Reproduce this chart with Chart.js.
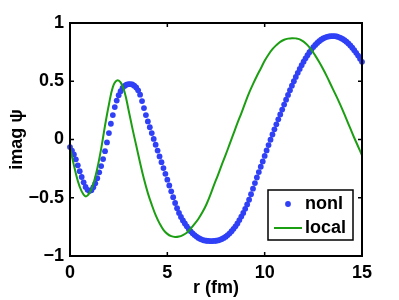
<!DOCTYPE html>
<html>
<head>
<meta charset="utf-8">
<script src="https://cdn.jsdelivr.net/npm/chart.js@4/dist/chart.umd.min.js"></script>
<style>
  html, body { margin: 0; padding: 0; background: #fff; }
  canvas { display: block; }
</style>
</head>
<body>
<canvas id="chart" width="399" height="300"></canvas>
<script>
// nonlocal wave function, imag part, sampled every 0.1 fm (dots)
const nonlStep = 0.1;
const imagNonl = [
  -0.065, -0.095, -0.128, -0.17, -0.222, -0.272, -0.322, -0.368, -0.407, -0.432,
  -0.441, -0.435, -0.41, -0.376, -0.332, -0.282, -0.228, -0.168, -0.1, -0.025,
  0.055, 0.135, 0.21, 0.278, 0.334, 0.38, 0.415, 0.442, 0.46, 0.47,
  0.475, 0.476, 0.472, 0.462, 0.447, 0.422, 0.385, 0.33, 0.27, 0.21,
  0.155, 0.105, 0.055, 0.005, -0.045, -0.095, -0.145, -0.195, -0.245, -0.295,
  -0.345, -0.395, -0.445, -0.495, -0.545, -0.59, -0.63, -0.665, -0.695, -0.72,
  -0.745, -0.768, -0.788, -0.805, -0.82, -0.833, -0.845, -0.854, -0.861, -0.866,
  -0.869, -0.871, -0.872, -0.872, -0.871, -0.869, -0.866, -0.861, -0.854, -0.845,
  -0.834, -0.82, -0.805, -0.787, -0.767, -0.745, -0.72, -0.692, -0.662, -0.63,
  -0.595, -0.557, -0.517, -0.47, -0.422, -0.374, -0.326, -0.28, -0.234, -0.188,
  -0.141, -0.094, -0.048, -0.002, 0.043, 0.087, 0.13, 0.173, 0.215, 0.257,
  0.30, 0.342, 0.383, 0.423, 0.462, 0.5, 0.537, 0.572, 0.606, 0.638,
  0.668, 0.697, 0.724, 0.749, 0.772, 0.793, 0.812, 0.829, 0.844, 0.857,
  0.867, 0.875, 0.881, 0.885, 0.887, 0.888, 0.887, 0.884, 0.879, 0.872,
  0.863, 0.852, 0.839, 0.824, 0.807, 0.788, 0.767, 0.744, 0.72, 0.694,
  0.667
];

// local wave function, imag part, read every 0.2 fm (line)
const localStep = 0.2;
const imagLocal = [
  -0.07, -0.22, -0.355, -0.445, -0.488, -0.46, -0.38, -0.25, -0.08, 0.12,
  0.3, 0.45, 0.505, 0.49, 0.41, 0.26, 0.1, -0.05, -0.2, -0.34,
  -0.46, -0.56, -0.65, -0.72, -0.775, -0.81, -0.83, -0.837, -0.833, -0.82,
  -0.8, -0.765, -0.725, -0.68, -0.625, -0.56, -0.48, -0.39, -0.305, -0.215,
  -0.13, -0.04, 0.05, 0.14, 0.225, 0.315, 0.4, 0.475, 0.545, 0.61,
  0.676, 0.73, 0.775, 0.81, 0.838, 0.856, 0.866, 0.87, 0.868, 0.86,
  0.84, 0.81, 0.77, 0.72, 0.665, 0.605, 0.54, 0.47, 0.4, 0.33,
  0.255, 0.175, 0.095, 0.015, -0.06, -0.135
];

const xTicks = [0, 5, 10, 15];
const yTicks = [-1, -0.5, 0, 0.5, 1];
const seriesNames = ["nonl", "local"];

const BLUE = "#2f40f6";
const GREEN = "#1c9e12";
const FONT = "'Liberation Sans', Arial, sans-serif";

const nonlPts = imagNonl.map((v, i) => ({ x: +(i * nonlStep).toFixed(2), y: v }));
const localPts = imagLocal.map((v, i) => ({ x: +(i * localStep).toFixed(2), y: v }));

function fmt(v) {
  if (v === 0) return "0";
  return v < 0 ? "\u2212" + Math.abs(v) : String(v);
}

// box round the axes + inward ticks, like matlab
const framePlugin = {
  id: "frame",
  afterDatasetsDraw(chart) {
    const { ctx, chartArea: a, scales } = chart;
    ctx.save();
    ctx.strokeStyle = "#000";
    ctx.lineWidth = 2;
    ctx.strokeRect(a.left, a.top, a.right - a.left, a.bottom - a.top);
    ctx.lineWidth = 1.5;
    ctx.beginPath();
    xTicks.forEach((t) => {
      const px = scales.x.getPixelForValue(t);
      ctx.moveTo(px, a.bottom); ctx.lineTo(px, a.bottom - 4);
      ctx.moveTo(px, a.top); ctx.lineTo(px, a.top + 4);
    });
    yTicks.forEach((t) => {
      const py = scales.y.getPixelForValue(t);
      ctx.moveTo(a.left, py); ctx.lineTo(a.left + 4, py);
      ctx.moveTo(a.right, py); ctx.lineTo(a.right - 4, py);
    });
    ctx.stroke();
    ctx.restore();
  },
};

// legend box in the lower right corner
const legendPlugin = {
  id: "boxLegend",
  afterDraw(chart) {
    const { ctx } = chart;
    const x0 = 268, y0 = 190, w = 85, h = 50;
    ctx.save();
    ctx.fillStyle = "#fff";
    ctx.fillRect(x0, y0, w, h);
    ctx.strokeStyle = "#000";
    ctx.lineWidth = 1.5;
    ctx.strokeRect(x0, y0, w, h);

    ctx.fillStyle = BLUE;
    ctx.beginPath();
    ctx.arc(288, 204, 2.9, 0, Math.PI * 2);
    ctx.fill();

    ctx.strokeStyle = GREEN;
    ctx.lineWidth = 2;
    ctx.beginPath();
    ctx.moveTo(274, 228); ctx.lineTo(302, 228);
    ctx.stroke();

    ctx.fillStyle = "#000";
    ctx.font = "bold 18px " + FONT;
    ctx.textBaseline = "middle";
    ctx.textAlign = "left";
    ctx.fillText(seriesNames[0], 305, 204);
    ctx.fillText(seriesNames[1], 305, 228);
    ctx.restore();
  },
};

new Chart(document.getElementById("chart").getContext("2d"), {
  type: "scatter",
  data: {
    datasets: [
      {
        label: seriesNames[0],
        data: nonlPts,
        showLine: false,
        pointRadius: 2.9,
        pointBorderWidth: 0,
        pointBackgroundColor: BLUE,
        pointBorderColor: BLUE,
        clip: false,
        order: 2,
      },
      {
        label: seriesNames[1],
        data: localPts,
        showLine: true,
        borderColor: GREEN,
        borderWidth: 2,
        pointRadius: 0,
        tension: 0.4,
        fill: false,
        order: 1,
      },
    ],
  },
  options: {
    responsive: false,
    animation: false,
    devicePixelRatio: 1,
    layout: { padding: { top: 23, right: 37, left: 0, bottom: 0 } },
    plugins: { legend: { display: false }, tooltip: { enabled: false } },
    scales: {
      x: {
        type: "linear",
        min: 0,
        max: 15,
        afterFit: (s) => { s.height = 44; },
        afterBuildTicks: (s) => { s.ticks = xTicks.map((v) => ({ value: v })); },
        grid: { display: false, drawTicks: false },
        border: { display: false },
        ticks: {
          padding: 6,
          color: "#000",
          font: { family: FONT, size: 18, weight: "bold" },
          callback: fmt,
        },
        title: {
          display: true,
          text: "r (fm)",
          color: "#000",
          font: { family: FONT, size: 18, weight: "bold" },
          padding: { top: 0, bottom: 1 },
        },
      },
      y: {
        type: "linear",
        min: -1,
        max: 1,
        afterFit: (s) => { s.width = 70; },
        afterBuildTicks: (s) => { s.ticks = yTicks.map((v) => ({ value: v })); },
        grid: { display: false, drawTicks: false },
        border: { display: false },
        ticks: {
          padding: 6,
          color: "#000",
          font: { family: FONT, size: 18, weight: "bold" },
          callback: fmt,
        },
        title: {
          display: true,
          text: "imag \u03c8",
          color: "#000",
          font: { family: FONT, size: 18, weight: "bold" },
          padding: { top: 6, bottom: 0 },
        },
      },
    },
  },
  plugins: [framePlugin, legendPlugin],
});
</script>
</body>
</html>
